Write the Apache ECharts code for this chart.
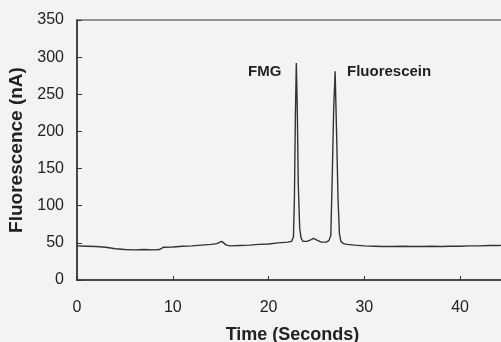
<!DOCTYPE html>
<html lang="en">

<head>
  <meta charset="UTF-8">
  <title>Fluorescence</title>
  <style>
    html, body { margin: 0; padding: 0; background: #f3f3f1; }
    #chart { width: 501px; height: 342px; }
  </style>
</head>

<body>
  <div id="chart"></div>
</body>
<script src="https://cdn.jsdelivr.net/npm/echarts@6/dist/echarts.min.js"></script>
<script>
  // 时间 (s)
  var times = [0, 1, 2, 3, 4, 5, 6, 7, 8, 8.6, 9, 10, 11, 12, 13, 14, 14.6, 15.1, 15.6, 16, 17, 18, 19, 20, 21, 22,
    22.4, 22.6, 22.7, 22.8, 22.9, 23.0, 23.1, 23.25, 23.4, 23.6, 24, 24.4, 24.7, 25, 25.5, 26, 26.3,
    26.5, 26.65, 26.8, 26.95, 27.1, 27.25, 27.4, 27.55, 27.8, 28.2, 29, 30, 31, 32, 33, 34, 35, 36, 37, 38, 39, 40, 41, 42, 43, 44, 45];
  // 荧光信号 (nA)
  var fluorescence = [46, 45.5, 45, 44, 42, 41, 40.5, 41, 40.5, 41, 44, 44.5, 45.5, 46, 47, 48, 49, 52, 47, 46, 46.5, 47, 48, 48.5, 50, 51,
    52, 58, 110, 220, 292, 230, 130, 70, 56, 52, 52, 54, 56, 54, 51, 51, 53,
    60, 140, 230, 281, 200, 110, 62, 52, 49, 48, 47, 46, 45.5, 45, 45, 45.5, 45, 45, 45.5, 45, 45.5, 45.5, 46, 46, 46.5, 46.5, 47];
  var xTicks = { min: 0, max: 45, interval: 10 };
  var yTicks = { min: 0, max: 350, interval: 50 };

  var points = times.map(function (t, i) { return [t, fluorescence[i]]; });
  var ink = '#222';
  var font = 'Arial, "Liberation Sans", sans-serif';

  var chart = echarts.init(document.getElementById('chart'));
  chart.setOption({
    backgroundColor: '#f3f3f1',
    animation: false,
    grid: {
      left: 77, top: 20, bottom: 62, right: -7,
      outerBoundsMode: 'none',
      containLabel: false,
      show: true, borderColor: '#333', borderWidth: 1.2, backgroundColor: 'transparent'
    },
    xAxis: {
      type: 'value',
      min: xTicks.min, max: xTicks.max, interval: xTicks.interval,
      name: 'Time (Seconds)',
      nameLocation: 'middle',
      nameGap: 46,
      nameTextStyle: { color: ink, fontSize: 18, fontWeight: 'bold', fontFamily: font },
      axisLine: { lineStyle: { color: '#333', width: 1.5 } },
      axisTick: { inside: true, length: 4, lineStyle: { color: '#333' } },
      axisLabel: { color: ink, fontSize: 16, fontFamily: font, margin: 20, showMaxLabel: false },
      splitLine: { show: false }
    },
    yAxis: {
      type: 'value',
      min: yTicks.min, max: yTicks.max, interval: yTicks.interval,
      name: 'Fluorescence (nA)',
      nameLocation: 'middle',
      nameGap: 45,
      nameTextStyle: { color: ink, fontSize: 19, fontWeight: 'bold', fontFamily: font },
      axisLine: { show: true, lineStyle: { color: '#333', width: 1.5 } },
      axisTick: { show: true, inside: true, length: 5, lineStyle: { color: '#333' } },
      axisLabel: { color: ink, fontSize: 16, fontFamily: font, margin: 13 },
      splitLine: { show: false }
    },
    graphic: [
      { type: 'text', left: 248, top: 64, style: { text: 'FMG', fill: ink, font: 'bold 15px ' + font } },
      { type: 'text', left: 347, top: 64, style: { text: 'Fluorescein', fill: ink, font: 'bold 15px ' + font } }
    ],
    series: [{
      type: 'line',
      data: points,
      showSymbol: false,
      lineStyle: { color: '#333', width: 1.4 }
    }]
  });
</script>

</html>
